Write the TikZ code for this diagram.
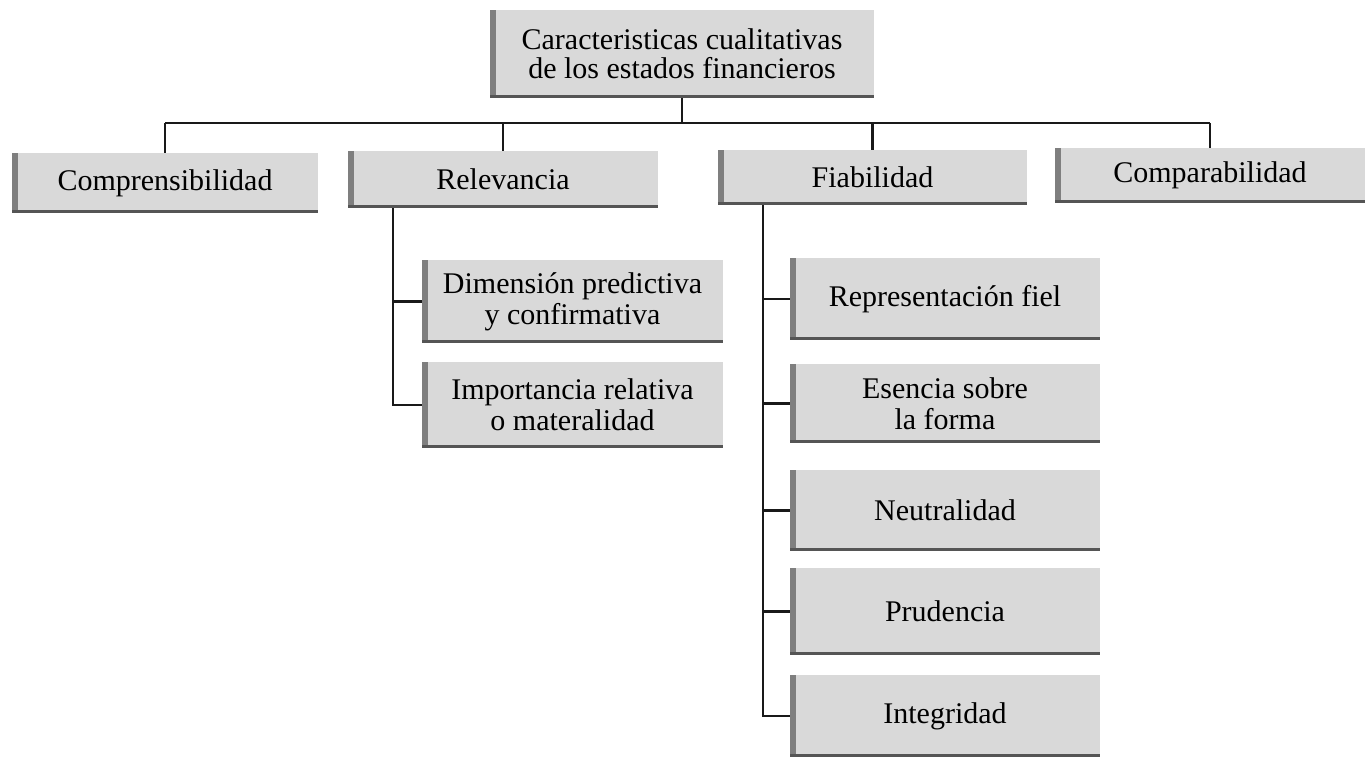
\documentclass[tikz,border=0pt]{standalone}
\usepackage{fontspec}
\setmainfont{Liberation Serif}
\usetikzlibrary{calc}
\definecolor{boxgray}{HTML}{D9D9D9}
\definecolor{barleft}{HTML}{7F7F7F}
\definecolor{barbottom}{HTML}{555555}
\begin{document}
\begin{tikzpicture}[x=1pt,y=-1pt,
  box/.style={fill=boxgray, inner sep=0pt, align=center,
    font=\fontsize{30}{31}\selectfont,
    path picture={
      \fill[barleft] (path picture bounding box.south west) rectangle ([xshift=6pt]path picture bounding box.north west);
      \fill[barbottom] (path picture bounding box.south west) rectangle ([yshift=3pt]path picture bounding box.south east);
    }},
  link/.style={line width=2.3pt, black!90}]
\useasboundingbox (0,0) rectangle (1371,759);

% top
\node[box, minimum width=384pt, minimum height=88pt, font=\fontsize{30}{29}\selectfont] (top) at (682,54)
  {Caracteristicas cualitativas\\de los estados financieros};

% level 1
\node[box, minimum width=306pt, minimum height=60pt] (c1) at (165,183) {Comprensibilidad};
\node[box, minimum width=310pt, minimum height=57pt] (c2) at (503,179.5) {Relevancia};
\node[box, minimum width=309pt, minimum height=55pt] (c3) at (872.5,177.5) {Fiabilidad};
\node[box, minimum width=310pt, minimum height=55pt] (c4) at (1210,175.5) {Comparabilidad};

% Relevancia children
\node[box, minimum width=301pt, minimum height=83pt] (r1) at (572.5,301.5) {Dimensión predictiva\\y confirmativa};
\node[box, minimum width=301pt, minimum height=86pt] (r2) at (572.5,405) {Importancia relativa\\o materalidad};

% Fiabilidad children
\node[box, minimum width=310pt, minimum height=82pt] (f1) at (945,299) {Representación fiel};
\node[box, minimum width=310pt, minimum height=79pt] (f2) at (945,403.5) {Esencia sobre\\la forma};
\node[box, minimum width=310pt, minimum height=81pt] (f3) at (945,510.5) {Neutralidad};
\node[box, minimum width=310pt, minimum height=87pt] (f4) at (945,611.5) {Prudencia};
\node[box, minimum width=310pt, minimum height=82pt] (f5) at (945,716) {Integridad};

% connectors
\coordinate (bus) at (0,123);
\draw[link] (top.south) -- (top.south |- bus);
\draw[link] (c1.north |- bus) -- (c4.north |- bus);
\foreach \n in {c1,c2,c3,c4}
  \draw[link] (\n.north |- bus) -- (\n.north);

\coordinate (rs) at ($(c2.south west)+(45,0)$);
\foreach \n in {r1,r2}
  \draw[link] (rs) |- (\n.west);

\coordinate (fs) at ($(c3.south west)+(45,0)$);
\foreach \n in {f1,f2,f3,f4,f5}
  \draw[link] (fs) |- (\n.west);
\end{tikzpicture}
\end{document}
